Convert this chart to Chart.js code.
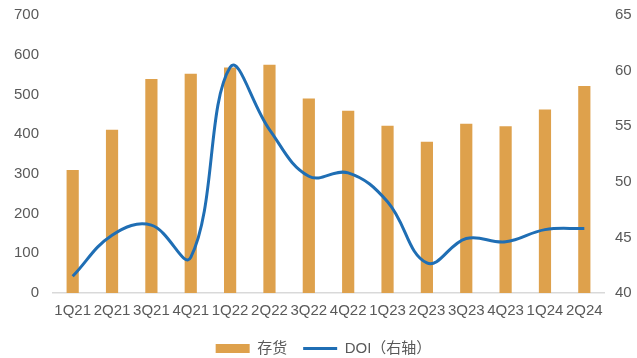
<!DOCTYPE html>
<html>
<head>
<meta charset="utf-8">
<script src="https://cdn.jsdelivr.net/npm/chart.js@4/dist/chart.umd.min.js"></script>
<style>
  html, body { margin: 0; padding: 0; background: #ffffff; }
  #wrap { width: 637px; height: 358px; position: relative; }
</style>
</head>
<body>
<div id="wrap"><canvas id="c" width="637" height="358"></canvas></div>
<script>
const categories = ["1Q21","2Q21","3Q21","4Q21","1Q22","2Q22","3Q22","4Q22","1Q23","2Q23","3Q23","4Q23","1Q24","2Q24"];
const inventory = [310, 411, 539, 552, 568, 575, 490, 459, 421, 381, 426, 420, 462, 521];
const doi = [41.5, 45.2, 46.1, 43.2, 60.3, 54.7, 50.5, 50.8, 48.2, 42.7, 44.9, 44.6, 45.7, 45.8];
const leftTicks = [0, 100, 200, 300, 400, 500, 600, 700];
const rightTicks = [40, 45, 50, 55, 60, 65];
const seriesNames = ["存货", "DOI（右轴）"];

const FONT = "'Liberation Sans', Arial, 'Noto Sans CJK SC', sans-serif";
const TXT = "#595959";

function noPad(s) { s.paddingTop = 0; s.paddingBottom = 0; }

new Chart(document.getElementById('c'), {
  data: {
    labels: categories,
    datasets: [
      {
        type: 'line',
        label: seriesNames[1],
        data: doi,
        yAxisID: 'y1',
        borderColor: '#1F6EB4',
        backgroundColor: '#1F6EB4',
        borderWidth: 3,
        pointRadius: 0,
        tension: 0.4,
        pointStyle: 'line',
        order: 0
      },
      {
        type: 'bar',
        label: seriesNames[0],
        data: inventory,
        yAxisID: 'y',
        backgroundColor: '#DEA14C',
        borderWidth: 0,
        barPercentage: 0.62,
        categoryPercentage: 0.5,
        pointStyle: 'rect',
        order: 1
      }
    ]
  },
  options: {
    responsive: false,
    animation: false,
    devicePixelRatio: 1,
    layout: { autoPadding: false, padding: { left: 10, right: 0, top: 15, bottom: -8 } },
    plugins: {
      legend: {
        position: 'bottom',
        reverse: true,
        labels: {
          usePointStyle: true,
          pointStyleWidth: 34,
          boxHeight: 9,
          color: TXT,
          font: { family: FONT, size: 15 },
          padding: 16
        }
      },
      tooltip: { enabled: false }
    },
    scales: {
      x: {
        grid: { display: false, drawTicks: false },
        border: { display: true, color: '#D9D9D9', width: 1.5 },
        afterFit: (s) => { s.height = 32; },
        ticks: { color: TXT, font: { family: FONT, size: 15 }, maxRotation: 0, autoSkip: false, padding: 9 }
      },
      y: {
        position: 'left',
        min: leftTicks[0],
        max: leftTicks[leftTicks.length - 1],
        afterBuildTicks: (s) => { s.ticks = leftTicks.map(v => ({ value: v })); },
        afterFit: (s) => { s.width = 43; noPad(s); },
        grid: { display: false, drawTicks: false },
        border: { display: false },
        ticks: { color: TXT, font: { family: FONT, size: 15 }, padding: 14 }
      },
      y1: {
        position: 'right',
        min: rightTicks[0],
        max: rightTicks[rightTicks.length - 1],
        afterBuildTicks: (s) => { s.ticks = rightTicks.map(v => ({ value: v })); },
        afterFit: (s) => { s.width = 33; noPad(s); },
        grid: { display: false, drawTicks: false },
        border: { display: false },
        ticks: { color: TXT, font: { family: FONT, size: 15 }, padding: 11 }
      }
    }
  }
});
</script>
</body>
</html>
